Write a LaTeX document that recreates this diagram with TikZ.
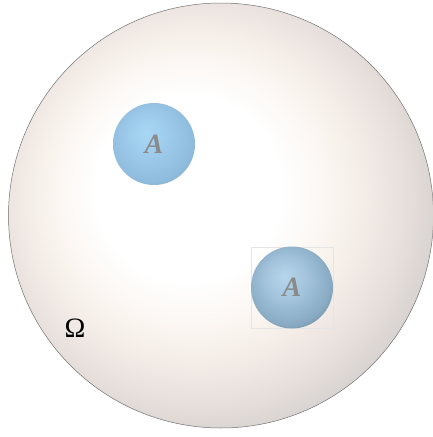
\documentclass[tikz,border=0pt]{standalone}
\usepackage{fontspec}
\setmainfont{Liberation Serif}
\definecolor{omW}{HTML}{FFFFFF}
\definecolor{omA}{HTML}{FAF4EF}
\definecolor{omB}{HTML}{E8E0DC}
\definecolor{omC}{HTML}{CFCBCA}
\definecolor{bia}{HTML}{A8D8F6}
\definecolor{bib}{HTML}{9DCAEA}
\definecolor{bic}{HTML}{8FBCDC}
\definecolor{bid}{HTML}{86AECB}
\definecolor{bja}{HTML}{B6D6EC}
\definecolor{bjb}{HTML}{A2C3DB}
\definecolor{bjc}{HTML}{88AAC3}
\definecolor{bjd}{HTML}{6F8A9E}
\definecolor{alabel}{HTML}{8A8A8A}
\pgfdeclareradialshading{omegashade}{\pgfpoint{-5bp}{4bp}}{color(0bp)=(omW); color(11bp)=(omW); color(17bp)=(omA); color(24bp)=(omB); color(30bp)=(omC); color(50bp)=(omC)}
\pgfdeclareradialshading{ballone}{\pgfpoint{-5bp}{7bp}}{color(0bp)=(bia); color(13bp)=(bib); color(26bp)=(bic); color(32bp)=(bid); color(50bp)=(bid)}
\pgfdeclareradialshading{balltwo}{\pgfpoint{-5bp}{7bp}}{color(0bp)=(bja); color(13bp)=(bjb); color(26bp)=(bjc); color(32bp)=(bjd); color(50bp)=(bjd)}
\tikzset{
  ballnode/.style={circle, minimum size=82pt, inner sep=0pt, shade,
    text=alabel, font=\fontsize{28}{28}\selectfont\bfseries\itshape},
  omegaline/.style={line width=0.5pt, draw=black!55},
  frame/.style={line width=0.4pt, draw=black!10}
}
\begin{document}
\begin{tikzpicture}[x=1pt,y=-1pt]
\useasboundingbox (0,0) rectangle (433,437);
\shade[shading=omegashade] (221,215.5) circle (212.5);
\draw[omegaline] (221,215.5) circle (212.5);
\node[ballnode, shading=ballone] (a1) at (154,144) {A};
\draw[frame] (251,247) rectangle (333,328);
\node[ballnode, shading=balltwo] (a2) at (292,287.5) {A};
\node[font=\fontsize{28}{28}\selectfont] (om) at (75,328) {Ω};
\end{tikzpicture}
\end{document}
